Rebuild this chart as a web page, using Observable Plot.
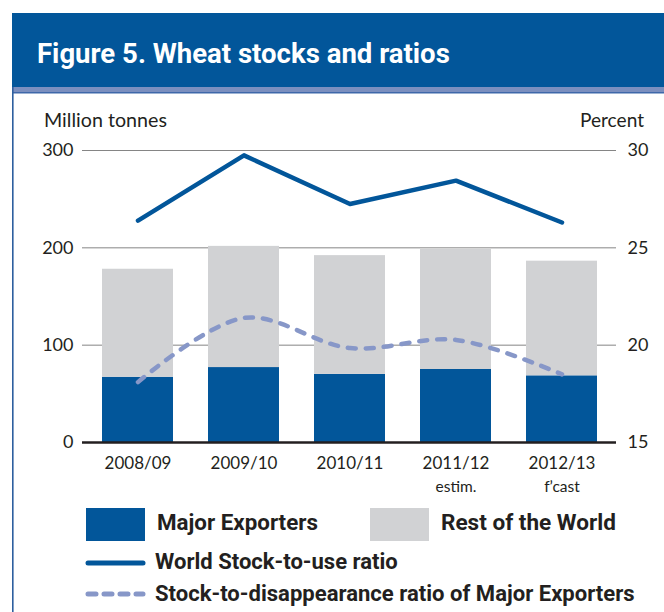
<!DOCTYPE html>
<html>
<head>
<meta charset="utf-8">
<script src="https://cdn.jsdelivr.net/npm/d3@7"></script>
<script src="https://cdn.jsdelivr.net/npm/@observablehq/plot@0.6"></script>
<style>
  html, body { margin: 0; padding: 0; background: #fff; }
  #wrap { position: relative; width: 664px; height: 612px; overflow: hidden; font-family: Lato, "Open Sans", sans-serif; }
  #deco { position: absolute; left: 0; top: 0; }
  #chart { position: absolute; left: 0; top: 100px; }
</style>
</head>
<body>
<div id="wrap">
  <svg id="deco" width="664" height="612" xmlns="http://www.w3.org/2000/svg"></svg>
  <div id="chart"></div>
</div>
<script>
// ---- data ----
const years = ["2008/09", "2009/10", "2010/11", "2011/12", "2012/13"];
const yearNotes = ["", "", "", "estim.", "f\u2019cast"];
const majorExporters = [67, 77, 70, 75, 68.5];          // million tonnes
const restOfWorld = [111, 124.5, 122, 123.5, 117.8];    // million tonnes
const worldStockToUse = [26.4, 29.75, 27.25, 28.45, 26.3];          // percent
const stockToDisappearance = [18.1, 21.4, 19.85, 20.27, 18.5];      // percent
const leftTicks = [0, 100, 200, 300];
const rightTicks = [15, 20, 25, 30];
const seriesNames = ["Major Exporters", "Rest of the World"];
const lineNames = ["World Stock-to-use ratio", "Stock-to-disappearance ratio of Major Exporters"];
const title = "Figure 5. Wheat stocks and ratios";

// ---- styles ----
const BLUE = "#02569a";
const GREY = "#d1d2d4";
const DASH = "#8797c8";
const INK = "#231f20";

// percent -> left-axis units (15% at 0, 30% at 300)
const pct = p => (p - 15) * 20;

const stackRows = [];
years.forEach((y, i) => {
  stackRows.push({year: y, series: seriesNames[0], value: majorExporters[i]});
  stackRows.push({year: y, series: seriesNames[1], value: restOfWorld[i]});
});
const lineRows = years.map((y, i) => ({year: y, world: worldStockToUse[i], major: stockToDisappearance[i], note: yearNotes[i]}));

const chart = Plot.plot({
  width: 664,
  height: 400,
  marginLeft: 82,
  marginRight: 48,
  marginTop: 50,
  marginBottom: 58,
  style: {fontFamily: "Lato, 'Open Sans', sans-serif", fontSize: "18px", color: INK, background: "transparent", overflow: "visible"},
  x: {domain: years, paddingInner: 0.332, paddingOuter: 0.166, label: null},
  y: {domain: [0, 300], label: null},
  color: {domain: seriesNames, range: [BLUE, GREY]},
  marks: [
    Plot.gridY(leftTicks.filter(d => d > 0), {stroke: "#858585", strokeOpacity: 1, strokeWidth: 1}),
    Plot.barY(stackRows, {x: "year", y: "value", fill: "series", order: seriesNames}),
    Plot.ruleY([0], {stroke: INK, strokeWidth: 2.5}),
    Plot.line(lineRows, {x: "year", y: d => pct(d.major), stroke: DASH, strokeWidth: 4.5, strokeDasharray: "8,10", strokeLinecap: "round", curve: "catmull-rom"}),
    Plot.line(lineRows, {x: "year", y: d => pct(d.world), stroke: BLUE, strokeWidth: 4.5, strokeLinejoin: "round", strokeLinecap: "round"}),
    Plot.axisY({ticks: leftTicks, tickSize: 0, tickPadding: 9, fontSize: 18, label: null}),
    Plot.axisY({anchor: "right", ticks: rightTicks.map(pct), tickFormat: d => String(15 + d / 20), tickSize: 0, tickPadding: 11, fontSize: 18, label: null}),
    Plot.axisX({tickSize: 0, tickPadding: 14, fontSize: 17, label: null}),
    Plot.text(lineRows.filter(d => d.note), {x: "year", text: "note", frameAnchor: "bottom", dy: 45, lineAnchor: "middle", fontSize: 15.5, fill: INK})
  ]
});
document.getElementById("chart").appendChild(chart);

// ---- decoration, title, unit labels, legend ----
const svg = d3.select("#deco");
// scale a text's font size so that it spans the given width
function fit(sel, target) {
  const w = sel.node().getComputedTextLength();
  if (w > 0) sel.attr("font-size", +sel.attr("font-size") * target / w);
  return sel;
}
svg.append("rect").attr("x", 12).attr("y", 13).attr("width", 652).attr("height", 75).attr("fill", BLUE);
svg.append("rect").attr("x", 12).attr("y", 87).attr("width", 652).attr("height", 6).attr("fill", "#7b8fbf");
svg.append("rect").attr("x", 12).attr("y", 92).attr("width", 652).attr("height", 1.5).attr("fill", "#3f68a9");
svg.append("rect").attr("x", 12).attr("y", 87).attr("width", 1.6).attr("height", 525).attr("fill", "#2d5f9f");
fit(svg.append("text").attr("x", 37).attr("y", 63).attr("fill", "#fff")
  .attr("font-family", "Roboto, sans-serif").attr("font-weight", 700).attr("font-size", 24).text(title), 413);

fit(svg.append("text").attr("x", 44).attr("y", 127).attr("fill", INK).attr("font-size", 18).attr("font-family", "Lato, sans-serif").text("Million tonnes"), 123);
fit(svg.append("text").attr("x", 644).attr("y", 127).attr("text-anchor", "end").attr("fill", INK).attr("font-size", 18).attr("font-family", "Lato, sans-serif").text("Percent"), 64);

const lg = svg.append("g").attr("font-family", "Roboto, sans-serif").attr("font-weight", 700).attr("fill", INK);
lg.append("rect").attr("x", 86).attr("y", 508).attr("width", 59).attr("height", 33).attr("fill", BLUE);
fit(lg.append("text").attr("x", 157).attr("y", 530).attr("font-size", 19.5).text(seriesNames[0]), 161);
lg.append("rect").attr("x", 370).attr("y", 508).attr("width", 59).attr("height", 33).attr("fill", GREY);
fit(lg.append("text").attr("x", 441).attr("y", 530).attr("font-size", 19.5).text(seriesNames[1]), 175);
lg.append("line").attr("x1", 88).attr("x2", 143).attr("y1", 563).attr("y2", 563).attr("stroke", BLUE).attr("stroke-width", 5).attr("stroke-linecap", "round");
fit(lg.append("text").attr("x", 155).attr("y", 569).attr("font-size", 19.5).text(lineNames[0]), 243);
lg.append("line").attr("x1", 88).attr("x2", 143).attr("y1", 594).attr("y2", 594).attr("stroke", DASH).attr("stroke-width", 5).attr("stroke-linecap", "round").attr("stroke-dasharray", "8,8");
fit(lg.append("text").attr("x", 155).attr("y", 601).attr("font-size", 19.5).text(lineNames[1]), 480);
</script>
</body>
</html>
